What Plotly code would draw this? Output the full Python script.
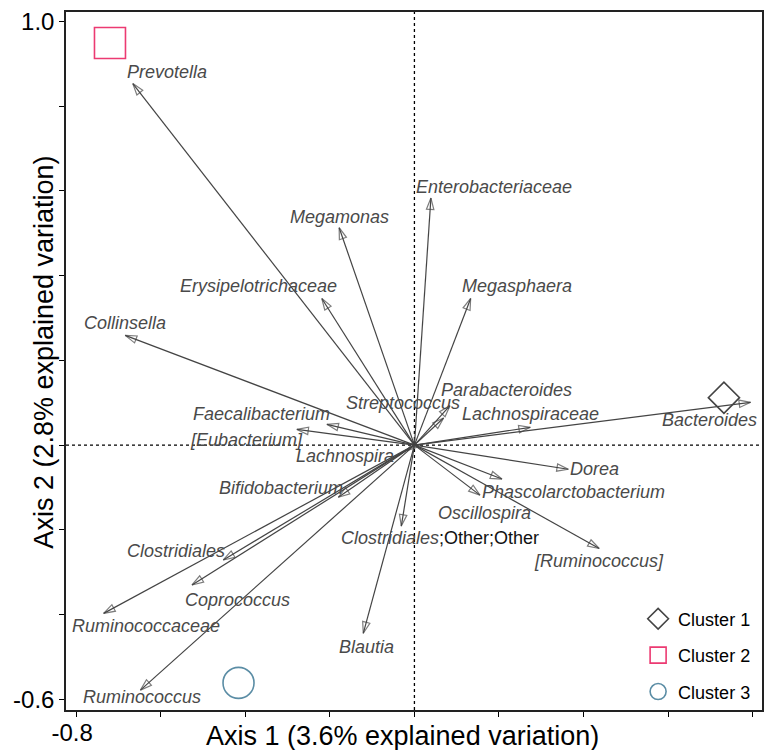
import plotly.graph_objects as go

# ---------------- data ----------------
taxa = [
    "Prevotella", "Megamonas", "Enterobacteriaceae", "Erysipelotrichaceae",
    "Megasphaera", "Collinsella", "Parabacteroides", "Streptococcus",
    "Lachnospiraceae", "Bacteroides", "Dorea", "Phascolarctobacterium",
    "Oscillospira", "Clostridiales;Other;Other", "[Ruminococcus]", "Blautia",
    "Faecalibacterium", "[Eubacterium]", "Lachnospira", "Bifidobacterium",
    "Clostridiales", "Coprococcus", "Ruminococcaceae", "Ruminococcus",
]
axis1 = [
    -0.666, -0.178, 0.039, -0.219,
    0.133, -0.684, 0.084, 0.069,
    0.274, 0.795, 0.364, 0.207,
    0.155, -0.031, 0.437, -0.121,
    -0.207, -0.278, -0.018, -0.180,
    -0.452, -0.526, -0.735, -0.648,
]
axis2 = [
    0.853, 0.513, 0.583, 0.346,
    0.346, 0.259, 0.093, 0.064,
    0.042, 0.101, -0.057, -0.080,
    -0.118, -0.191, -0.244, -0.444,
    0.049, 0.037, -0.013, -0.123,
    -0.271, -0.330, -0.397, -0.578,
]

cluster_names = ["Cluster 1", "Cluster 2", "Cluster 3"]
cluster_x = [0.732, -0.720, -0.416]
cluster_y = [0.112, 0.949, -0.561]

x_ticks = [-0.8, -0.6, -0.4, -0.2, 0.0, 0.2, 0.4, 0.6, 0.8]
x_ticktext = ["-0.8", "", "", "", "", "", "", "", "0.8"]
y_ticks = [-0.6, -0.4, -0.2, 0.0, 0.2, 0.4, 0.6, 0.8, 1.0]
y_ticktext = ["-0.6", "", "", "", "", "", "", "", "1.0"]

# ---------------- styling / layout ----------------
# label offsets from arrow tip, in screen pixels (right +, down +)
label_offsets = {
    "Prevotella": (34, -12), "Megamonas": (0, -11),
    "Enterobacteriaceae": (63, -11), "Erysipelotrichaceae": (-63, -12),
    "Megasphaera": (46, -12), "Collinsella": (0, -12),
    "Parabacteroides": (57, -16), "Streptococcus": (-41, -15),
    "Lachnospiraceae": (0, -13), "Bacteroides": (-41, 18),
    "Dorea": (26, 0), "Phascolarctobacterium": (72, 13),
    "Oscillospira": (5, 18), "Clostridiales;Other;Other": (39, 12),
    "[Ruminococcus]": (0, 12), "Blautia": (3, 14),
    "Faecalibacterium": (-65, -10), "[Eubacterium]": (-50, 11),
    "Lachnospira": (-62, 5), "Bifidobacterium": (-57, -9),
    "Clostridiales": (-47, -9), "Coprococcus": (45, 15),
    "Ruminococcaceae": (42, 13), "Ruminococcus": (2, 7),
}

FONT = "Liberation Sans, Arial, sans-serif"
ARROW = "#444444"
LABEL = "#4a4a4a"
cluster_symbols = ["diamond-open", "square-open", "circle-open"]
cluster_colors = ["#444444", "#EC3A72", "#5B8DA5"]
cluster_sizes = [24, 31, 31]

fig = go.Figure()

for name, x, y in zip(taxa, axis1, axis2):
    fig.add_trace(go.Scatter(
        x=[0, x], y=[0, y], mode="lines+markers",
        line=dict(color=ARROW, width=1.2),
        marker=dict(symbol="arrow-open", size=[0, 12], angleref="previous",
                    color=ARROW, line=dict(color=ARROW, width=1.2)),
        showlegend=False, hoverinfo="skip",
    ))

for name, cx, cy, sym, col, sz in zip(cluster_names, cluster_x, cluster_y,
                                      cluster_symbols, cluster_colors, cluster_sizes):
    fig.add_trace(go.Scatter(
        x=[cx], y=[cy], mode="markers", name=name, legendgroup=name,
        marker=dict(symbol=sym, size=sz, color=col, line=dict(color=col, width=1.6)),
    ))

annotations = []
for name, x, y in zip(taxa, axis1, axis2):
    dx, dy = label_offsets[name]
    if name == "Clostridiales;Other;Other":
        txt = "<i>Clostridiales</i><span style='color:#111111'>;Other;Other</span>"
    else:
        txt = "<i>" + name + "</i>"
    annotations.append(dict(
        x=x, y=y, xref="x", yref="y", text=txt, showarrow=False,
        xshift=dx, yshift=-dy, xanchor="center", yanchor="middle",
        font=dict(family=FONT, size=18, color=LABEL),
    ))

annotations.append(dict(
    x=0.4835, y=-0.0368, xref="paper", yref="paper", showarrow=False,
    text="Axis 1 (3.6% explained variation)", xanchor="center", yanchor="middle",
    font=dict(family=FONT, size=27, color="black"),
))
annotations.append(dict(
    x=-0.0316, y=0.512, xref="paper", yref="paper", showarrow=False,
    text="Axis 2 (2.8% explained variation)", textangle=-90,
    xanchor="center", yanchor="middle",
    font=dict(family=FONT, size=27, color="black"),
))

fig.update_layout(
    width=765, height=750,
    margin=dict(l=66, r=3, t=12, b=40, autoexpand=False),
    paper_bgcolor="white", plot_bgcolor="white",
    font=dict(family=FONT, color="black"),
    xaxis=dict(
        range=[-0.824, 0.822], tickvals=x_ticks, ticktext=x_ticktext,
        ticks="outside", ticklen=5, tickwidth=1.2, tickcolor="black",
        showline=True, linecolor="#222222", linewidth=1.5, mirror=True,
        showgrid=False, zeroline=False, ticklabelshift=-4, ticklabelstandoff=-5,
        automargin=False,
        tickfont=dict(family=FONT, size=24, color="black"),
    ),
    yaxis=dict(
        range=[-0.625, 1.022], tickvals=y_ticks, ticktext=y_ticktext,
        ticks="outside", ticklen=5, tickwidth=1.2, tickcolor="black",
        showline=True, linecolor="#222222", linewidth=1.5, mirror=True,
        showgrid=False, zeroline=False, automargin=False,
        tickfont=dict(family=FONT, size=24, color="black"),
    ),
    shapes=[
        dict(type="line", xref="x", yref="paper", x0=0, x1=0, y0=0, y1=1,
             line=dict(color="black", width=1.3, dash="dot"), layer="below"),
        dict(type="line", xref="paper", yref="y", x0=0, x1=1, y0=0, y1=0,
             line=dict(color="black", width=1.3, dash="dot"), layer="below"),
    ],
    legend=dict(
        x=0.822, y=0.078, xanchor="left", yanchor="middle",
        font=dict(family=FONT, size=18, color="black"),
        bgcolor="rgba(0,0,0,0)", tracegroupgap=10, itemsizing="trace",
    ),
    annotations=annotations,
)

fig.write_html("out.html")
